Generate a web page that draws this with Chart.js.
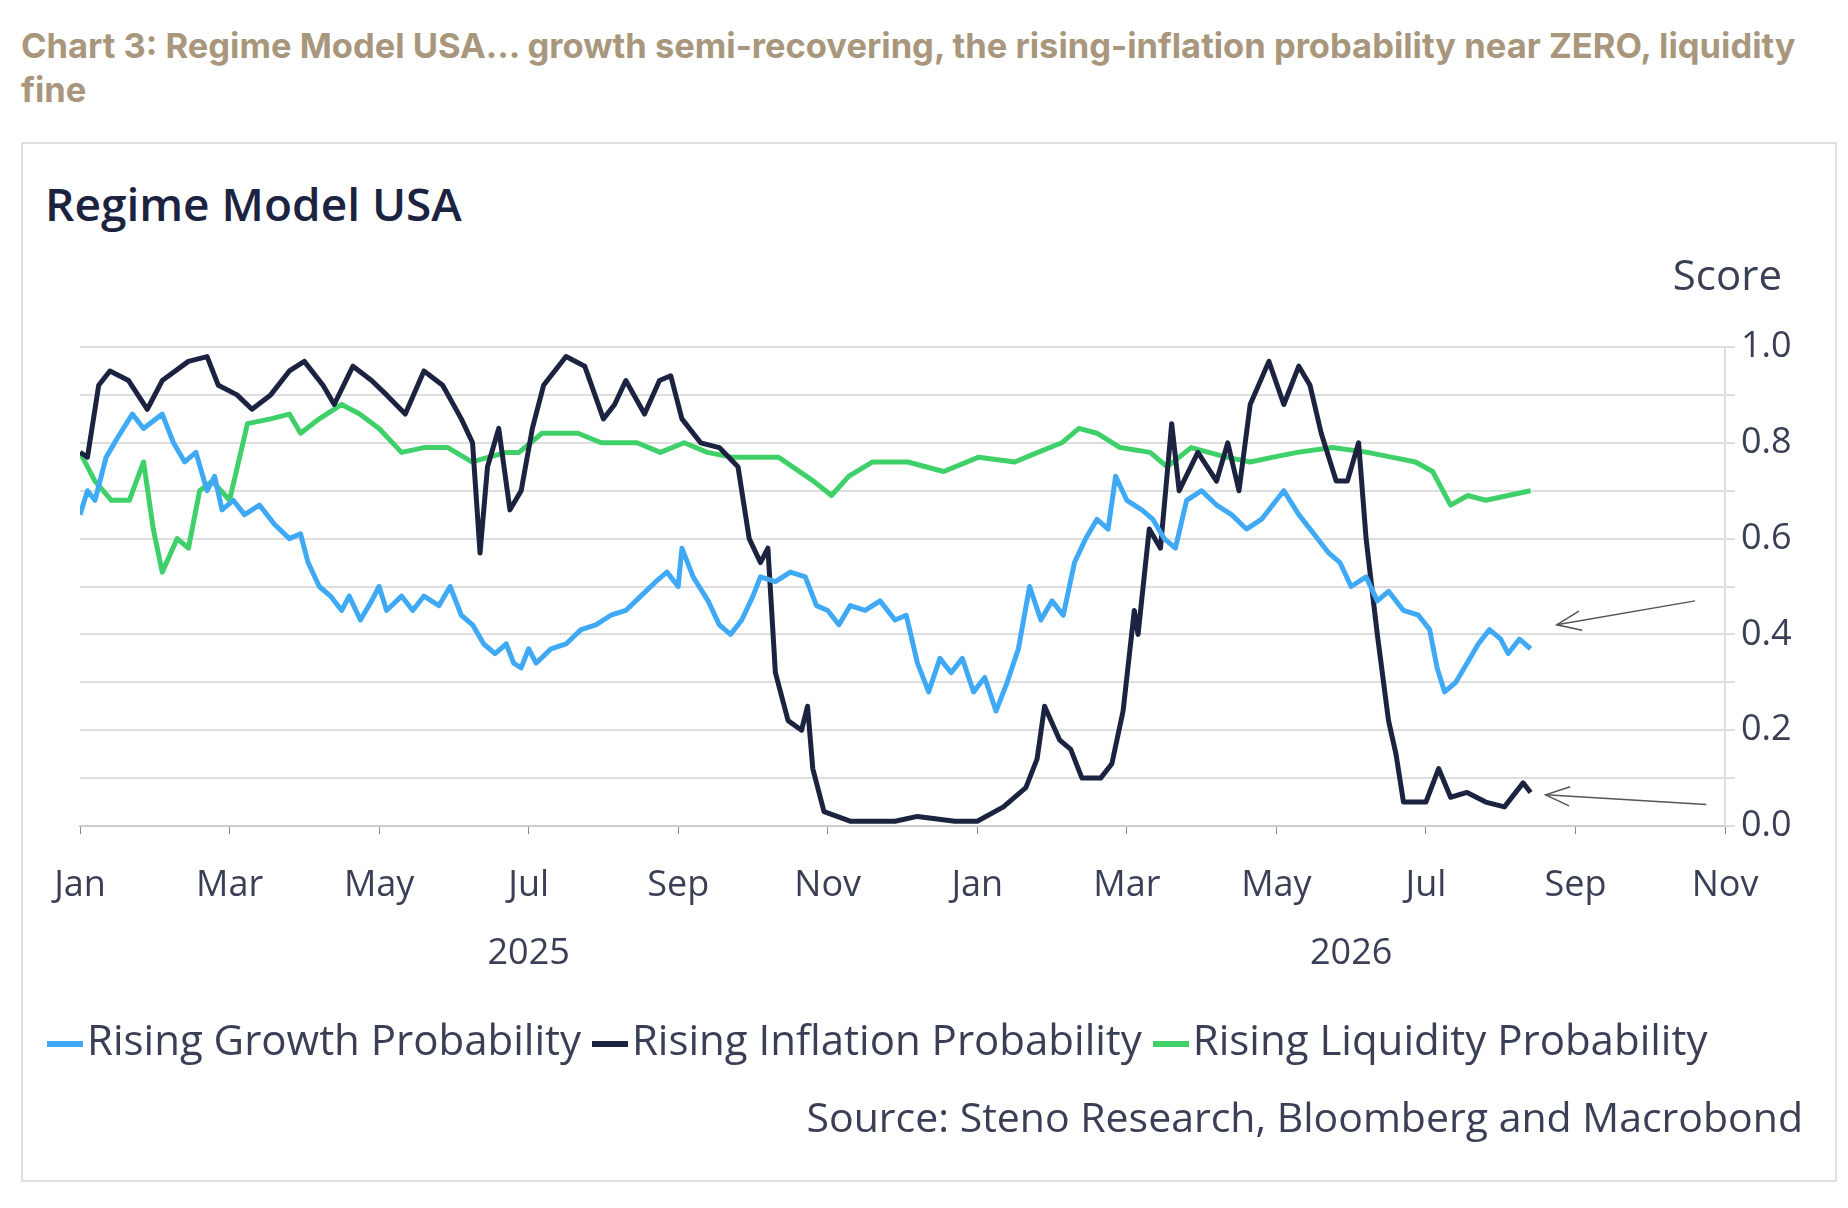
<!DOCTYPE html>
<html><head><meta charset="utf-8">
<script src="https://cdn.jsdelivr.net/npm/chart.js@4"></script>
<style>
body{margin:0;width:1848px;height:1208px;background:#fff;font-family:"Open Sans","Noto Sans",sans-serif;position:relative;overflow:hidden}
#hdr{position:absolute;left:21px;top:24px;width:1800px;font-family:Inter,"Noto Sans",sans-serif;font-weight:700;font-size:34.5px;line-height:44px;color:#a8977c}
#box{position:absolute;left:21px;top:142px;width:1812px;height:1036px;border:2px solid #e0e0e0}
#t2{position:absolute;left:45px;top:172px;font-size:46px;font-weight:600;color:#1c2340}
canvas{position:absolute;left:0;top:0}
#leg{position:absolute;left:47px;top:1010px;font-size:42px;color:#3a3f55;white-space:nowrap}
#leg span{display:inline-block;width:36px;height:6px;vertical-align:middle;margin-right:4px}
#src{position:absolute;right:45px;top:1088px;font-size:41px;color:#3a3f55}
</style></head><body>
<div id="hdr">Chart 3: Regime Model USA… growth semi-recovering, the rising-inflation probability near ZERO, liquidity fine</div>
<div id="box"></div>
<div id="t2">Regime Model USA</div>
<canvas id="c" width="1848" height="1208"></canvas>
<div id="leg"><span style="background:#3fa9f5"></span>Rising Growth Probability <span style="background:#1c2340"></span>Rising Inflation Probability <span style="background:#3fd06a"></span>Rising Liquidity Probability</div>
<div id="src">Source: Steno Research, Bloomberg and Macrobond</div>
<script>
const monthLabels=["Jan","Mar","May","Jul","Sep","Nov","Jan","Mar","May","Jul","Sep","Nov"];
const yearLabels=[{m:6,t:"2025"},{m:17,t:"2026"}];
// x = months since Jan 2025
const growth=[[0,0.65],[0.1,0.70],[0.2,0.68],[0.35,0.77],[0.5,0.81],[0.7,0.86],[0.85,0.83],[1.1,0.86],[1.25,0.80],[1.4,0.76],[1.55,0.78],[1.7,0.70],[1.8,0.73],[1.9,0.66],[2.05,0.68],[2.2,0.65],[2.4,0.67],[2.6,0.63],[2.8,0.60],[2.95,0.61],[3.05,0.55],[3.2,0.50],[3.35,0.48],[3.5,0.45],[3.6,0.48],[3.75,0.43],[3.9,0.47],[4.0,0.50],[4.1,0.45],[4.3,0.48],[4.45,0.45],[4.6,0.48],[4.8,0.46],[4.95,0.50],[5.1,0.44],[5.25,0.42],[5.4,0.38],[5.55,0.36],[5.7,0.38],[5.8,0.34],[5.9,0.33],[6.0,0.37],[6.1,0.34],[6.3,0.37],[6.5,0.38],[6.7,0.41],[6.9,0.42],[7.1,0.44],[7.3,0.45],[7.5,0.48],[7.7,0.51],[7.85,0.53],[8.0,0.50],[8.05,0.58],[8.2,0.52],[8.4,0.47],[8.55,0.42],[8.7,0.40],[8.85,0.43],[9.0,0.48],[9.1,0.52],[9.3,0.51],[9.5,0.53],[9.7,0.52],[9.85,0.46],[10.0,0.45],[10.15,0.42],[10.3,0.46],[10.5,0.45],[10.7,0.47],[10.9,0.43],[11.05,0.44],[11.2,0.34],[11.35,0.28],[11.5,0.35],[11.65,0.32],[11.8,0.35],[11.95,0.28],[12.1,0.31],[12.25,0.24],[12.4,0.30],[12.55,0.37],[12.7,0.50],[12.85,0.43],[13.0,0.47],[13.15,0.44],[13.3,0.55],[13.45,0.60],[13.6,0.64],[13.75,0.62],[13.85,0.73],[14.0,0.68],[14.2,0.66],[14.35,0.64],[14.5,0.60],[14.65,0.58],[14.8,0.68],[15.0,0.70],[15.2,0.67],[15.4,0.65],[15.6,0.62],[15.8,0.64],[16.0,0.68],[16.1,0.70],[16.3,0.65],[16.5,0.61],[16.7,0.57],[16.85,0.55],[17.0,0.50],[17.2,0.52],[17.35,0.47],[17.5,0.49],[17.7,0.45],[17.9,0.44],[18.05,0.41],[18.15,0.33],[18.25,0.28],[18.4,0.30],[18.55,0.34],[18.7,0.38],[18.85,0.41],[19.0,0.39],[19.1,0.36],[19.25,0.39],[19.4,0.37]];
const inflation=[[0,0.78],[0.1,0.77],[0.25,0.92],[0.4,0.95],[0.65,0.93],[0.9,0.87],[1.1,0.93],[1.45,0.97],[1.7,0.98],[1.85,0.92],[2.1,0.90],[2.3,0.87],[2.55,0.90],[2.8,0.95],[3.0,0.97],[3.25,0.92],[3.4,0.88],[3.65,0.96],[3.9,0.93],[4.1,0.90],[4.35,0.86],[4.6,0.95],[4.85,0.92],[5.1,0.85],[5.25,0.80],[5.35,0.57],[5.45,0.75],[5.6,0.83],[5.75,0.66],[5.9,0.70],[6.05,0.83],[6.2,0.92],[6.5,0.98],[6.75,0.96],[7.0,0.85],[7.15,0.88],[7.3,0.93],[7.55,0.86],[7.75,0.93],[7.9,0.94],[8.05,0.85],[8.3,0.80],[8.55,0.79],[8.8,0.75],[8.95,0.60],[9.1,0.55],[9.2,0.58],[9.3,0.32],[9.47,0.22],[9.65,0.20],[9.73,0.25],[9.8,0.12],[9.95,0.03],[10.3,0.01],[10.9,0.01],[11.2,0.02],[11.7,0.01],[12.0,0.01],[12.35,0.04],[12.65,0.08],[12.8,0.14],[12.9,0.25],[13.1,0.18],[13.25,0.16],[13.4,0.10],[13.65,0.10],[13.8,0.13],[13.95,0.24],[14.1,0.45],[14.15,0.40],[14.3,0.62],[14.45,0.58],[14.6,0.84],[14.7,0.70],[14.95,0.78],[15.2,0.72],[15.35,0.80],[15.5,0.70],[15.65,0.88],[15.9,0.97],[16.1,0.88],[16.3,0.96],[16.45,0.92],[16.6,0.82],[16.8,0.72],[16.95,0.72],[17.1,0.80],[17.2,0.60],[17.35,0.40],[17.5,0.22],[17.6,0.15],[17.7,0.05],[18.0,0.05],[18.17,0.12],[18.33,0.06],[18.55,0.07],[18.8,0.05],[19.05,0.04],[19.3,0.09],[19.4,0.07]];
const liquidity=[[0,0.78],[0.2,0.72],[0.42,0.68],[0.66,0.68],[0.85,0.76],[0.98,0.62],[1.1,0.53],[1.3,0.60],[1.45,0.58],[1.6,0.70],[1.77,0.72],[2.0,0.68],[2.24,0.84],[2.55,0.85],[2.8,0.86],[2.95,0.82],[3.2,0.85],[3.5,0.88],[3.74,0.86],[4.0,0.83],[4.3,0.78],[4.6,0.79],[4.92,0.79],[5.24,0.76],[5.7,0.78],[5.87,0.78],[6.18,0.82],[6.66,0.82],[6.97,0.80],[7.45,0.80],[7.76,0.78],[8.08,0.80],[8.39,0.78],[8.71,0.77],[9.34,0.77],[9.81,0.72],[10.05,0.69],[10.28,0.73],[10.6,0.76],[11.07,0.76],[11.55,0.74],[12.02,0.77],[12.5,0.76],[12.81,0.78],[13.13,0.80],[13.36,0.83],[13.6,0.82],[13.91,0.79],[14.31,0.78],[14.54,0.75],[14.86,0.79],[15.33,0.77],[15.65,0.76],[15.96,0.77],[16.28,0.78],[16.75,0.79],[17.22,0.78],[17.54,0.77],[17.86,0.76],[18.09,0.74],[18.33,0.67],[18.56,0.69],[18.8,0.68],[19.1,0.69],[19.4,0.70]];
const yTicks=[0,0.2,0.4,0.6,0.8,1.0];
const pts=a=>a.map(p=>({x:p[0],y:p[1]}));
const font="'Open Sans','Noto Sans',sans-serif";
const extras={id:'extras',afterDraw(c){
  const g=c.ctx,x=c.scales.x,y=c.scales.y;
  g.save();g.fillStyle='#3a3f55';g.font='36px '+font;g.textAlign='center';
  yearLabels.forEach(l=>g.fillText(l.t,x.getPixelForValue(l.m),964));
  g.font='42px '+font;g.textAlign='right';g.fillText('Score',1782,290);
  g.strokeStyle='#555';g.lineWidth=1.5;
  const arrow=(tx,ty,fx,fy)=>{const X1=x.getPixelForValue(fx),Y1=y.getPixelForValue(fy),X2=x.getPixelForValue(tx),Y2=y.getPixelForValue(ty);
    g.beginPath();g.moveTo(X1,Y1);g.lineTo(X2,Y2);g.stroke();
    const a=Math.atan2(Y2-Y1,X2-X1),L=26;
    g.beginPath();g.moveTo(X2-L*Math.cos(a-0.38),Y2-L*Math.sin(a-0.38));g.lineTo(X2,Y2);g.lineTo(X2-L*Math.cos(a+0.38),Y2-L*Math.sin(a+0.38));g.stroke();};
  arrow(19.75,0.42,21.6,0.47);arrow(19.6,0.065,21.75,0.045);
  g.restore();}};
new Chart(document.getElementById('c'),{type:'line',
 data:{datasets:[
  {data:pts(growth),borderColor:'#3fa9f5',borderWidth:5},
  {data:pts(inflation),borderColor:'#1c2340',borderWidth:5},
  {data:pts(liquidity),borderColor:'#3fd06a',borderWidth:5}]},
 options:{responsive:false,animation:false,devicePixelRatio:1,
  elements:{point:{radius:0},line:{tension:0,borderJoinStyle:'round'}},
  layout:{padding:{left:80,right:13,top:347,bottom:292}},
  plugins:{legend:{display:false},tooltip:{enabled:false}},
  scales:{
   x:{type:'linear',min:0,max:22,afterFit:s=>{s.height=90},
     grid:{drawOnChartArea:false,color:'#888',tickLength:8},border:{color:'#ccc',width:2},
     ticks:{stepSize:2,padding:30,color:'#3a3f55',font:{size:36,family:font},callback:v=>monthLabels[Math.round(v/2)]}},
   y:{position:'right',min:0,max:1.0,afterFit:s=>{s.width=110},
     grid:{color:'#dedede',lineWidth:2,tickLength:10},border:{color:'#dedede',width:2},
     afterBuildTicks:s=>{s.ticks=[];for(let i=0;i<=10;i++)s.ticks.push({value:i/10});},
     ticks:{padding:6,color:'#3a3f55',font:{size:36,family:font},callback:v=>yTicks.some(t=>Math.abs(t-v)<1e-6)?v.toFixed(1):''}}
  }},plugins:[extras]});
</script></body></html>
